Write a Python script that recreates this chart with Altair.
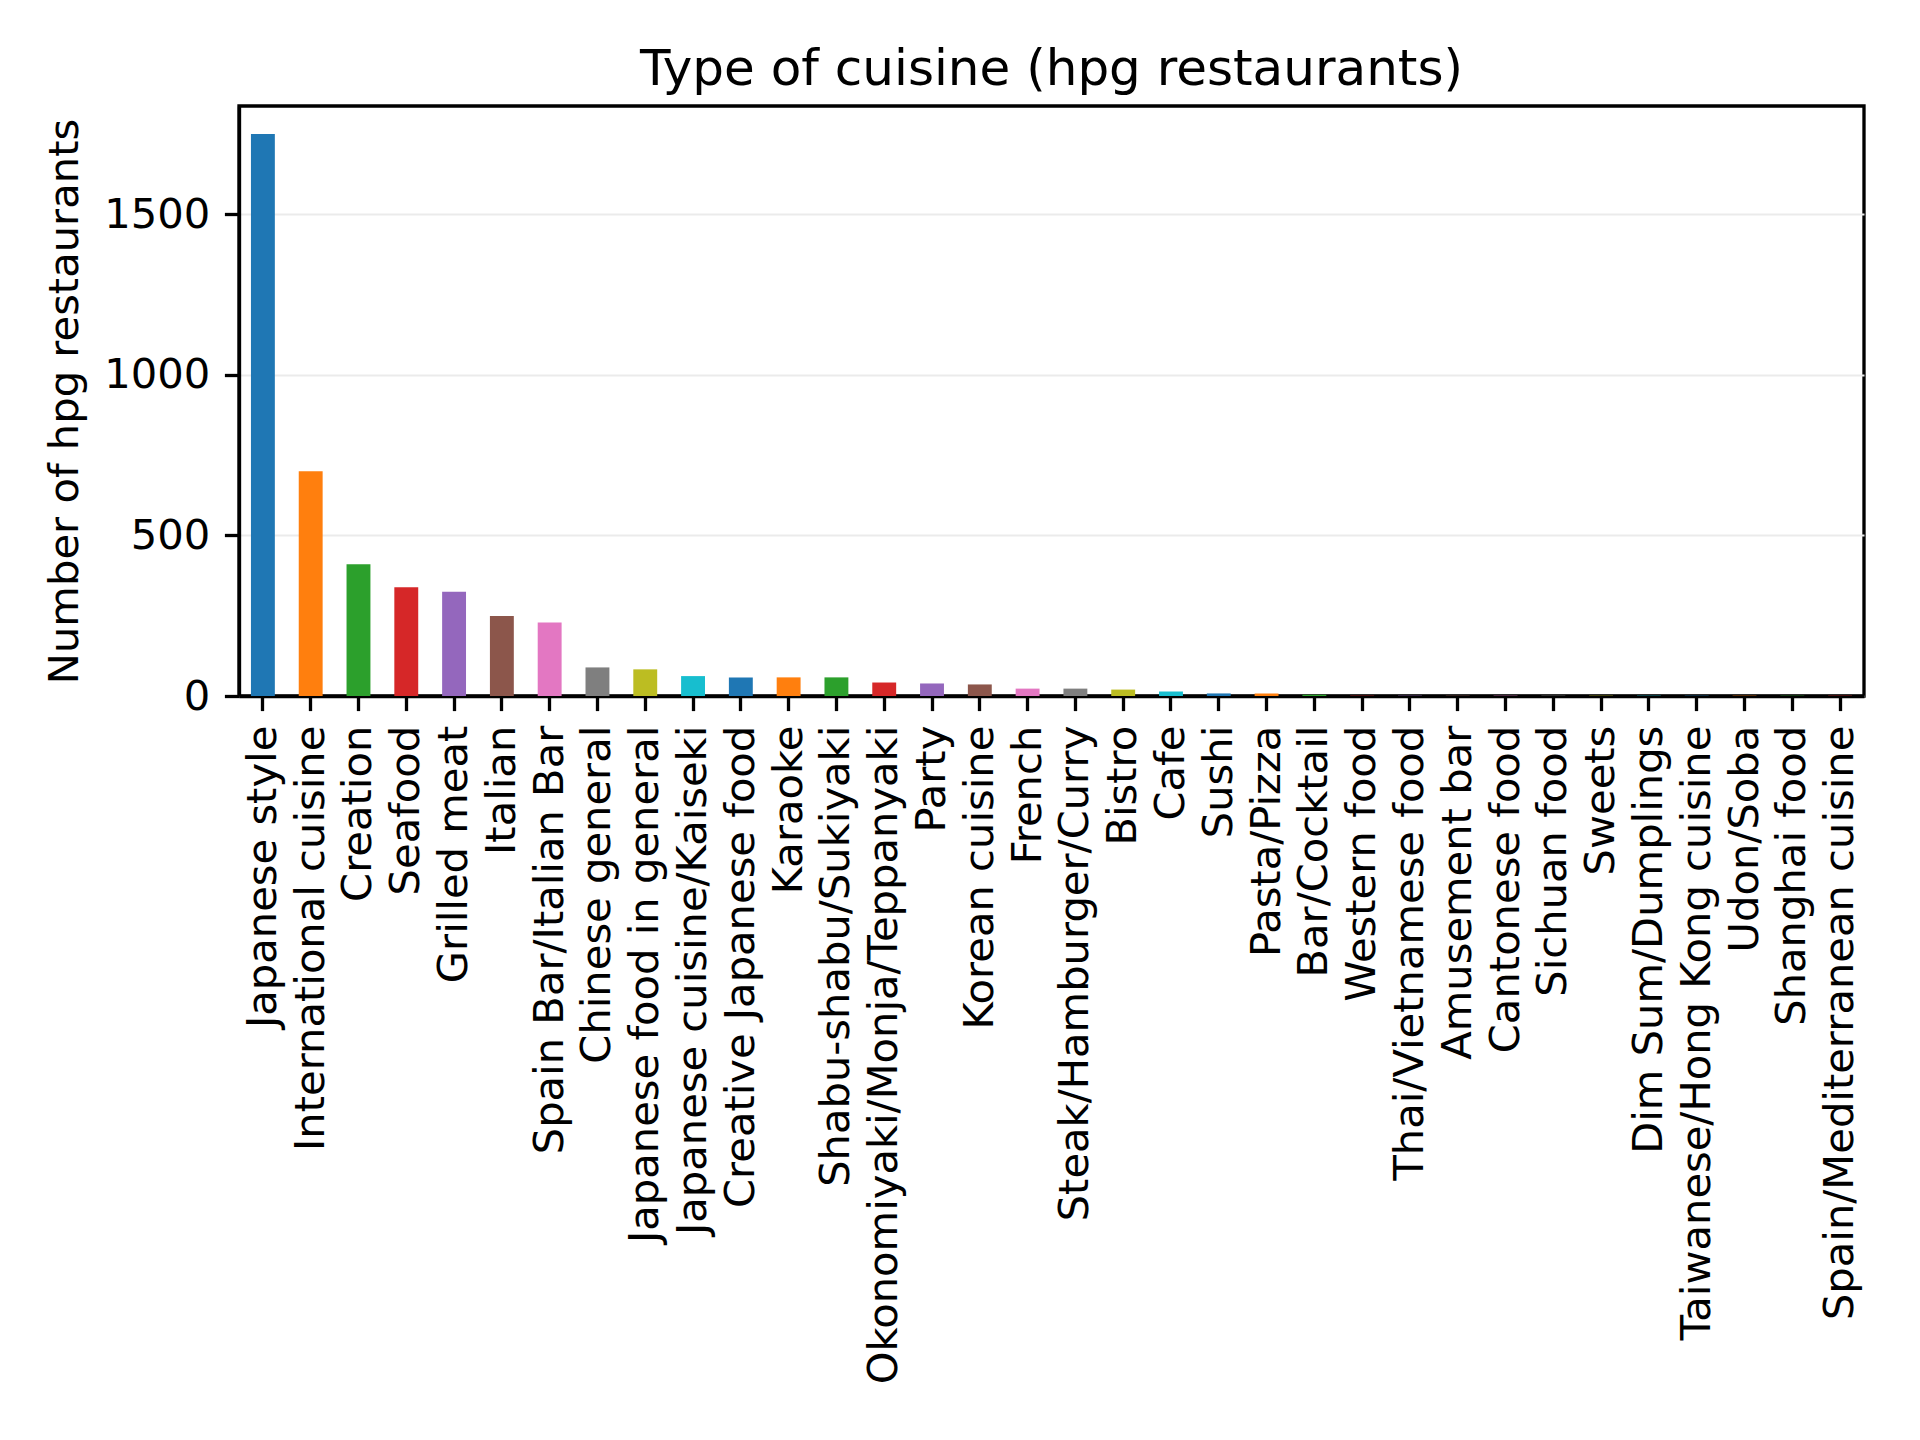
import altair as alt
import pandas as pd

genres = [
    "Japanese style", "International cuisine", "Creation", "Seafood", "Grilled meat",
    "Italian", "Spain Bar/Italian Bar", "Chinese general", "Japanese food in general",
    "Japanese cuisine/Kaiseki", "Creative Japanese food", "Karaoke", "Shabu-shabu/Sukiyaki",
    "Okonomiyaki/Monja/Teppanyaki", "Party", "Korean cuisine", "French",
    "Steak/Hamburger/Curry", "Bistro", "Cafe", "Sushi", "Pasta/Pizza", "Bar/Cocktail",
    "Western food", "Thai/Vietnamese food", "Amusement bar", "Cantonese food",
    "Sichuan food", "Sweets", "Dim Sum/Dumplings", "Taiwanese/Hong Kong cuisine",
    "Udon/Soba", "Shanghai food", "Spain/Mediterranean cuisine",
]
counts = [
    1750, 700, 410, 339, 325,
    249, 229, 89, 83,
    62, 58, 58, 58,
    42, 39, 36, 23,
    23, 20, 14, 8, 8, 4,
    1, 1, 1, 1,
    1, 1, 1, 1,
    1, 1, 1,
]
tab10 = ["#1f77b4", "#ff7f0e", "#2ca02c", "#d62728", "#9467bd",
         "#8c564b", "#e377c2", "#7f7f7f", "#bcbd22", "#17becf"]
bar_colors = [tab10[i % 10] for i in range(len(genres))]
y_ticks = [0, 500, 1000, 1500]

df = pd.DataFrame({"genre": genres, "count": counts})

FONT = "DejaVu Sans"
PLOT_W = 1625
PLOT_H = 590

chart = alt.Chart(df).mark_bar().encode(
    x=alt.X("genre:N", sort=genres, title=None,
            scale=alt.Scale(paddingInner=0.5, paddingOuter=0.25),
            axis=alt.Axis(labelAngle=-90, labelFontSize=41.67, labelFont=FONT,
                          labelColor="black", tickSize=14.6, tickWidth=3.3,
                          tickColor="black", labelPadding=14.6,
                          domainColor="black", domainWidth=3.33, grid=False,
                          labelLimit=0, labelOverlap=False)),
    y=alt.Y("count:Q", title="Number of hpg restaurants",
            scale=alt.Scale(domain=[0, 1837.5], nice=False, zero=True),
            axis=alt.Axis(values=y_ticks, format="d", labelFontSize=41.67, labelFont=FONT,
                          labelColor="black", tickSize=14.6, tickWidth=3.3,
                          tickColor="black", labelPadding=14.6,
                          domainColor="black", domainWidth=3.33,
                          grid=True, gridColor="#ebebeb", gridWidth=2,
                          titleFontSize=41.67, titleFont=FONT, titleColor="black",
                          titleFontWeight="normal", titleAngle=-90,
                          titleX=-175, titleY=PLOT_H / 2, titleAlign="center",
                          titleBaseline="middle")),
    color=alt.Color("genre:N", scale=alt.Scale(domain=genres, range=bar_colors),
                    legend=None),
).properties(
    width=PLOT_W,
    height=PLOT_H,
    title=alt.TitleParams("Type of cuisine (hpg restaurants)", fontSize=50,
                          font=FONT, fontWeight="normal", color="black",
                          anchor="middle", baseline="bottom", offset=11, dy=50),
    autosize=alt.AutoSizeParams(type="none"),
    padding={"left": 239, "top": 106, "right": 56, "bottom": 744},
    background="white",
).configure_view(
    stroke="black", strokeWidth=3.33
)

chart.save("out.html", embed_options={"renderer": "svg", "actions": False})
